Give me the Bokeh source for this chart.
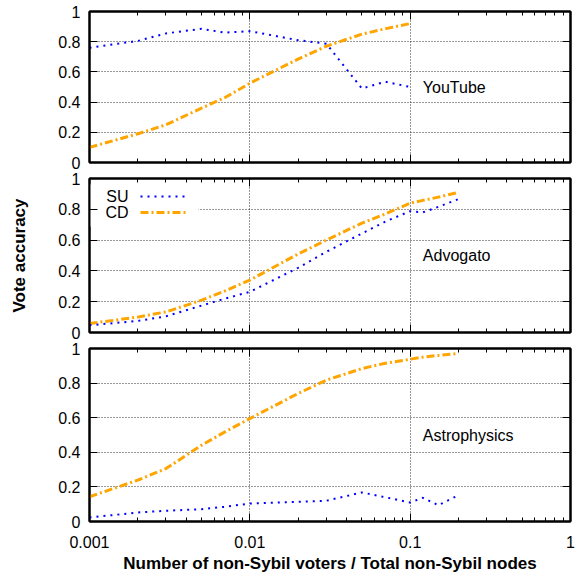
from bokeh.plotting import figure
from bokeh.layouts import column
from bokeh.models import (FixedTicker, LogAxis, LinearAxis, Label, Arrow,
                          BoxAnnotation, PrintfTickFormatter)
from bokeh.embed import file_html
from bokeh.resources import INLINE

# ---------------- data ----------------
x_youtube = [0.001, 0.002, 0.003, 0.005, 0.007, 0.01, 0.02, 0.03, 0.05, 0.07, 0.1]
su_youtube = [0.76, 0.805, 0.855, 0.885, 0.86, 0.87, 0.81, 0.787, 0.49, 0.535, 0.50]
cd_youtube = [0.10, 0.19, 0.25, 0.36, 0.43, 0.525, 0.685, 0.77, 0.85, 0.886, 0.92]

x_advogato = [0.001, 0.002, 0.003, 0.005, 0.007, 0.01, 0.02, 0.03, 0.05, 0.07, 0.1, 0.12, 0.15, 0.2]
su_advogato = [0.047, 0.075, 0.105, 0.175, 0.22, 0.264, 0.42, 0.524, 0.643, 0.72, 0.788, 0.78, 0.816, 0.866]
cd_advogato = [0.058, 0.10, 0.134, 0.21, 0.27, 0.34, 0.51, 0.60, 0.71, 0.77, 0.84, 0.858, 0.879, 0.91]

x_astro = [0.001, 0.002, 0.003, 0.005, 0.007, 0.01, 0.02, 0.03, 0.05, 0.07, 0.1, 0.12, 0.15, 0.2]
su_astro = [0.023, 0.052, 0.062, 0.071, 0.085, 0.104, 0.114, 0.12, 0.168, 0.14, 0.11, 0.137, 0.094, 0.152]
cd_astro = [0.143, 0.239, 0.306, 0.441, 0.518, 0.595, 0.74, 0.817, 0.884, 0.915, 0.938, 0.95, 0.96, 0.971]

panel_names = ["YouTube", "Advogato", "Astrophysics"]
series_names = ["SU", "CD"]
x_ticks = [0.001, 0.01, 0.1, 1]
x_minor = [m * d for d in (0.001, 0.01, 0.1) for m in range(2, 10)]
y_ticks = [0, 0.2, 0.4, 0.6, 0.8, 1]

SU_COLOR = "#0000ff"
CD_COLOR = "#ffa500"
FONT = "Liberation Sans"


def style_axis(ax, ticker, minor=True, labels=True):
    ax.ticker = ticker
    ax.axis_line_color = "black"
    ax.axis_line_width = 2
    ax.major_tick_line_color = "black"
    ax.major_tick_line_width = 1
    ax.major_tick_in = 8
    ax.major_tick_out = 0
    ax.minor_tick_line_color = "black" if minor else None
    ax.minor_tick_in = 4
    ax.minor_tick_out = 0
    ax.formatter = PrintfTickFormatter(format="%g")
    if labels:
        ax.major_label_text_font = FONT
        ax.major_label_text_font_size = "16px"
        ax.major_label_text_color = "black"
    else:
        ax.major_label_text_font_size = "0px"
        ax.major_label_text_color = None
        ax.major_label_text_alpha = 0
        ax.major_label_standoff = 0


def make_panel(xs, su, cd, name, frame_h, top, bottom, xlabels):
    xt = FixedTicker(ticks=x_ticks, minor_ticks=x_minor)
    yt = FixedTicker(ticks=y_ticks, minor_ticks=[])
    p = figure(x_axis_type="log", x_range=(0.001, 1), y_range=(0, 1),
               frame_width=481, frame_height=frame_h,
               min_border_left=89, min_border_right=12,
               min_border_top=top, min_border_bottom=bottom,
               output_backend="svg", toolbar_location=None)
    p.outline_line_color = "black"
    p.outline_line_width = 2
    p.background_fill_color = "white"
    p.border_fill_color = "white"

    bottom_ax = p.below[0]
    left_ax = p.left[0]
    style_axis(bottom_ax, xt, minor=True, labels=xlabels)
    style_axis(left_ax, yt, minor=False, labels=True)
    bottom_ax.major_label_standoff = 14
    left_ax.major_label_standoff = 9

    top_ax = LogAxis()
    style_axis(top_ax, FixedTicker(ticks=x_ticks, minor_ticks=x_minor), minor=True, labels=False)
    p.add_layout(top_ax, "above")
    right_ax = LinearAxis()
    style_axis(right_ax, FixedTicker(ticks=y_ticks, minor_ticks=[]), minor=False, labels=False)
    p.add_layout(right_ax, "right")

    for g in (p.xgrid[0], p.ygrid[0]):
        g.grid_line_color = "black"
        g.grid_line_alpha = 0.8
        g.grid_line_dash = "1 2"
        g.grid_line_width = 1
    p.xgrid[0].ticker = xt
    p.ygrid[0].ticker = yt

    p.line(xs, cd, line_color=CD_COLOR, line_width=3, line_dash="8 3 2 3")
    p.line(xs[:len(su)], su, line_color=SU_COLOR, line_width=2, line_dash="2 5")

    p.add_layout(Label(x=0.12, y=0.5, text=name, text_baseline="middle",
                       text_align="left", text_font=FONT, text_font_size="16px",
                       text_color="black"))
    return p, bottom_ax, left_ax


p1, b1, l1 = make_panel(x_youtube, su_youtube, cd_youtube, panel_names[0], 151, 11, 8, False)
p2, b2, l2 = make_panel(x_advogato, su_advogato, cd_advogato, panel_names[1], 154, 8, 8, False)
p3, b3, l3 = make_panel(x_astro, su_astro, cd_astro, panel_names[2], 173, 8, 55, True)

# y axis title on middle panel
l2.axis_label = "Vote accuracy"
l2.axis_label_text_font = FONT
l2.axis_label_text_font_size = "17px"
l2.axis_label_text_font_style = "bold"
l2.axis_label_text_color = "black"
l2.axis_label_standoff = 26

# x axis title on bottom panel
b3.axis_label = "Number of non-Sybil voters / Total non-Sybil nodes"
b3.axis_label_text_font = FONT
b3.axis_label_text_font_size = "17px"
b3.axis_label_text_font_style = "bold"
b3.axis_label_text_color = "black"
b3.axis_label_standoff = 3

# legend (gnuplot style: label left, sample right) in panel 2
p2.add_layout(BoxAnnotation(left=0, right=109, bottom=106, top=148,
                            left_units="screen", right_units="screen",
                            bottom_units="screen", top_units="screen",
                            fill_color="white", fill_alpha=1, line_color=None,
                            level="underlay"))
for i, (nm, col, w, dash) in enumerate([(series_names[0], SU_COLOR, 2, "2 5"),
                                         (series_names[1], CD_COLOR, 3, "8 3 2 3")]):
    yy = 136 - 16 * i
    p2.add_layout(Label(x=39, y=yy, x_units="screen", y_units="screen", text=nm,
                        text_align="right", text_baseline="middle", text_font=FONT,
                        text_font_size="16px", text_color="black"))
    p2.add_layout(Arrow(end=None, x_start=51, y_start=yy, x_end=98, y_end=yy,
                        start_units="screen", end_units="screen",
                        line_color=col, line_width=w, line_dash=dash))

layout = column(p1, p2, p3, spacing=0)
open("out.html", "w").write(file_html(layout, INLINE))
